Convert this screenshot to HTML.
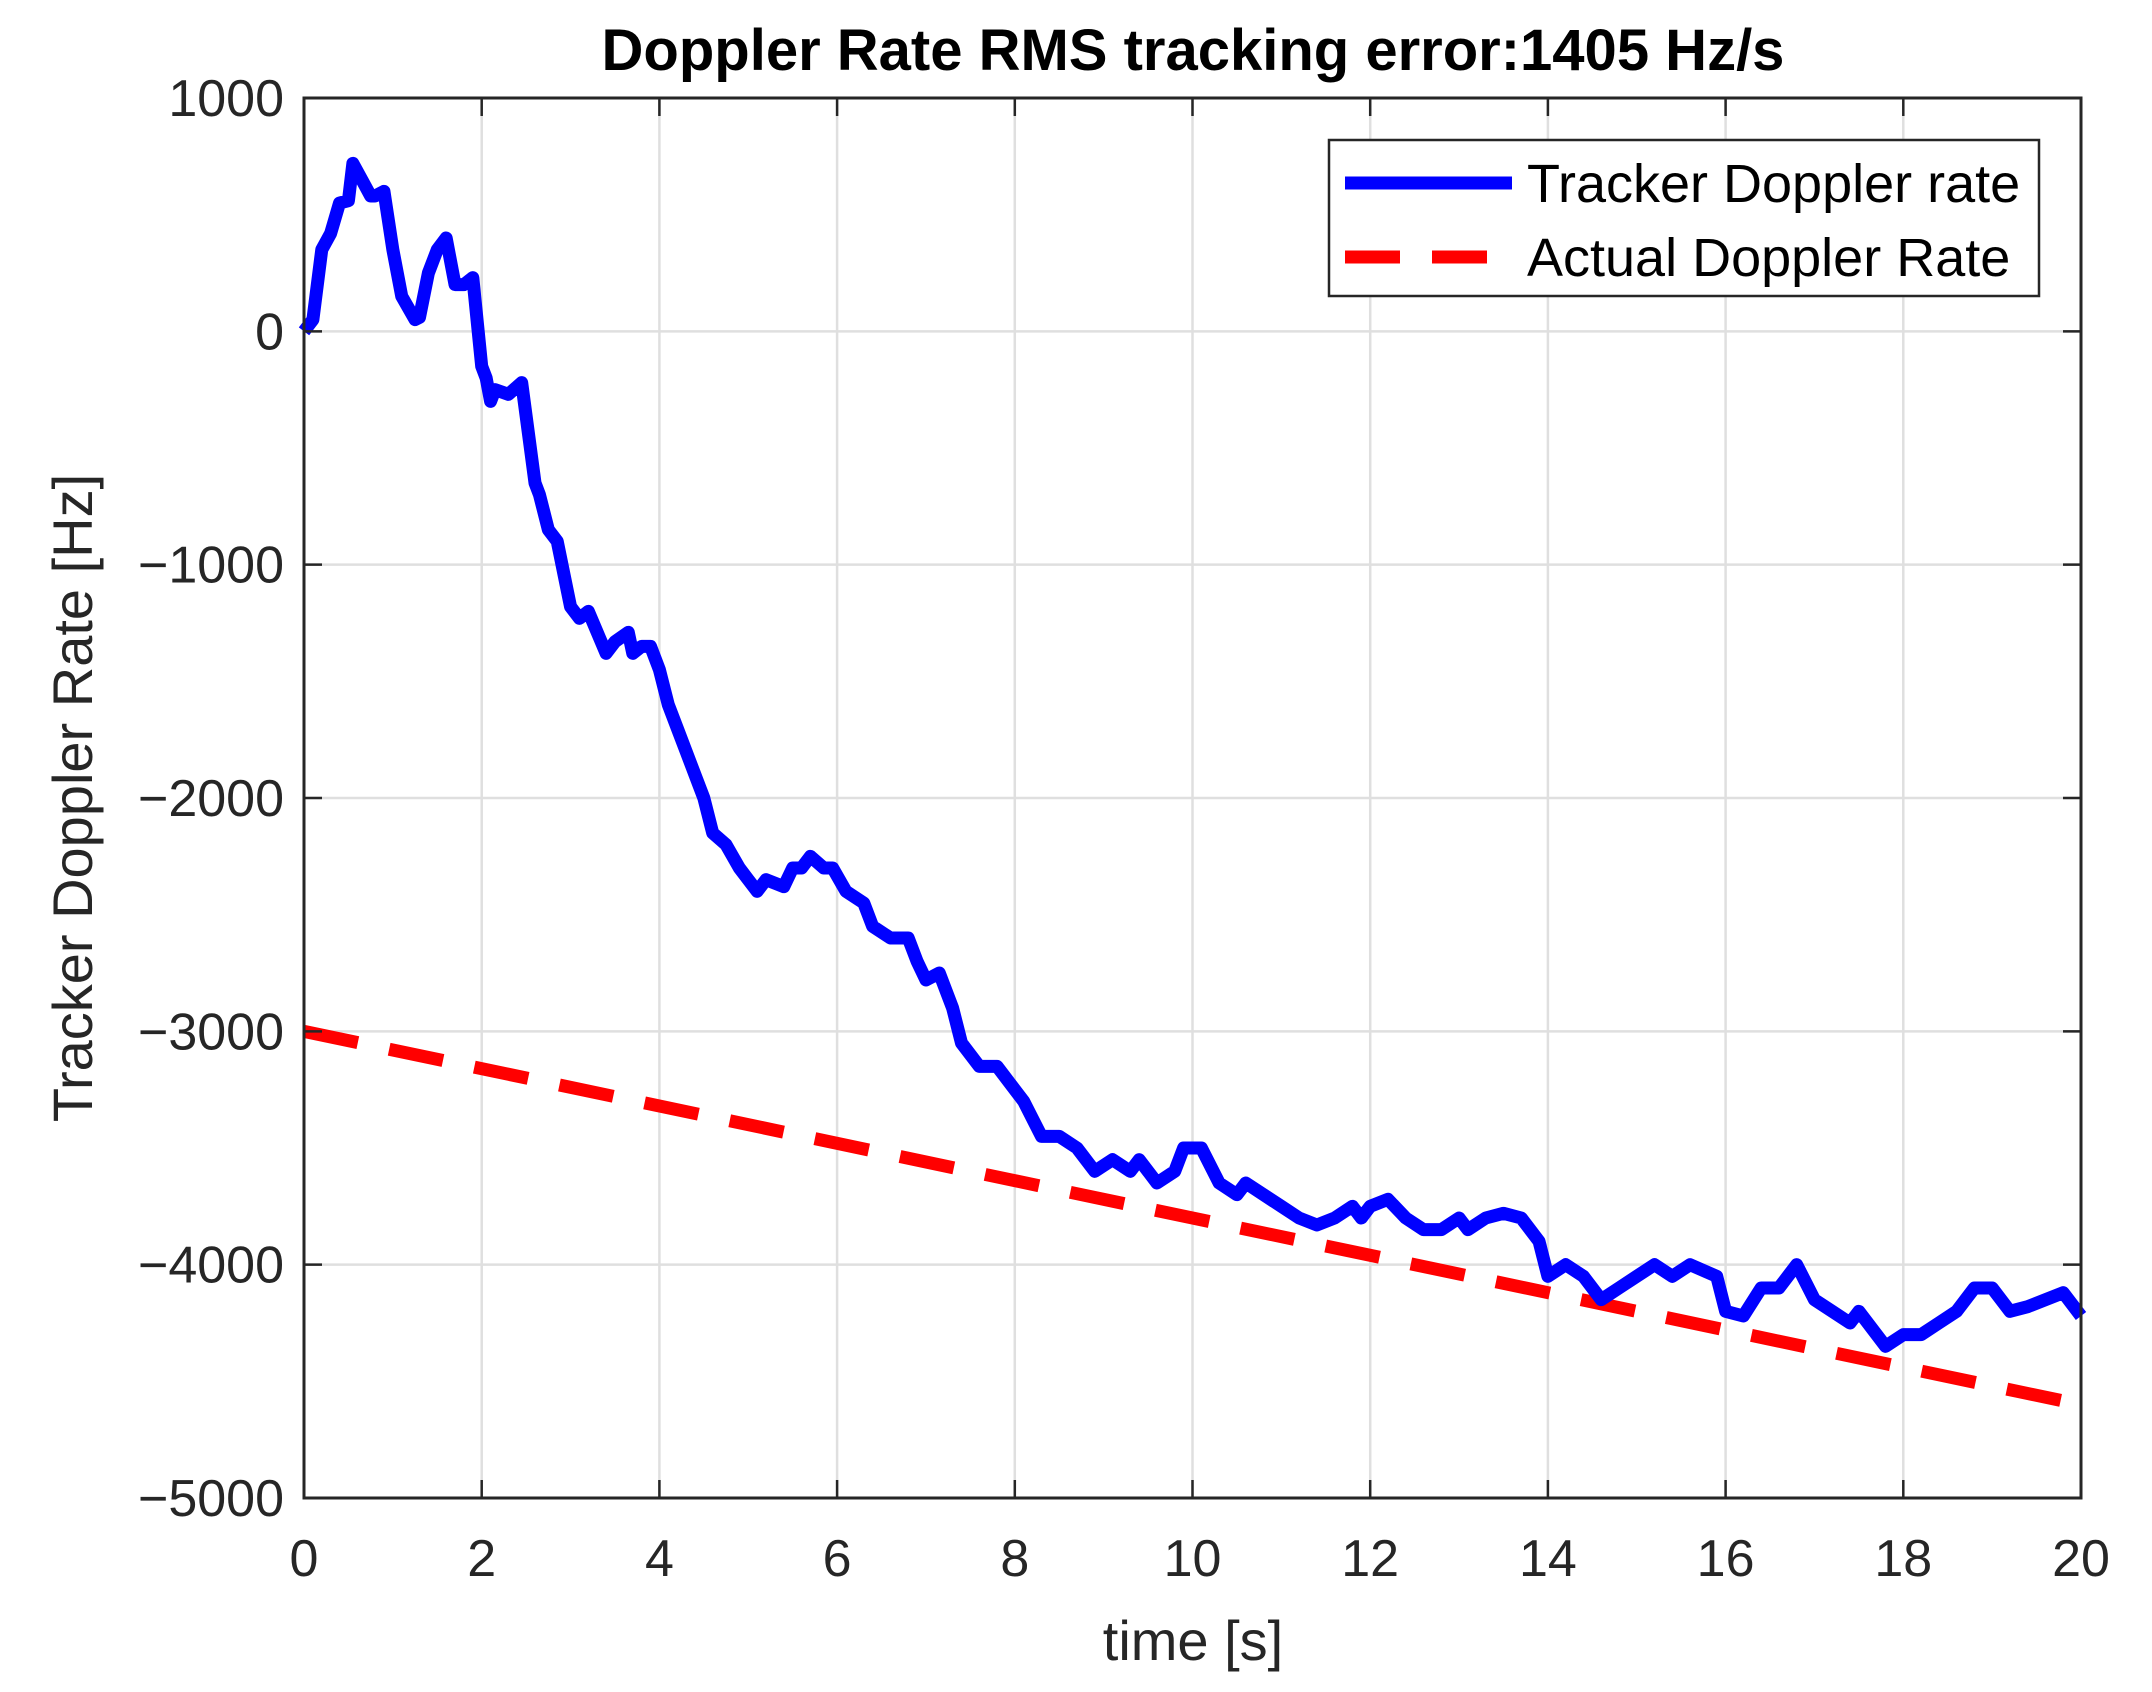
<!DOCTYPE html>
<html><head><meta charset="utf-8"><style>
html,body{margin:0;padding:0;background:#fff}
svg{display:block;font-family:"Liberation Sans",sans-serif}
</style></head><body>
<svg id="chart" width="2152" height="1692" viewBox="0 0 2152 1692" xmlns="http://www.w3.org/2000/svg">
<rect width="2152" height="1692" fill="#fff"/>
<g id="grid"></g>
<g id="series"></g>
<g id="axes"></g>
<text x="1193" y="70" font-size="58" font-weight="bold" text-anchor="middle" fill="#000">Doppler Rate RMS tracking error:1405 Hz/s</text>
<text x="1193" y="1660" font-size="56" text-anchor="middle" fill="#262626">time [s]</text>
<text transform="translate(92,798) rotate(-90)" font-size="56" text-anchor="middle" fill="#262626">Tracker Doppler Rate [Hz]</text>
<g>
<rect x="1329" y="140" width="710" height="156" fill="#fff" stroke="#262626" stroke-width="2.5"/>
<line x1="1345" y1="183" x2="1512" y2="183" stroke="#0000ff" stroke-width="13"/>
<text x="1527" y="202" font-size="54" fill="#000">Tracker Doppler rate</text>
<line x1="1345" y1="257" x2="1512" y2="257" stroke="#ff0000" stroke-width="13" stroke-dasharray="55,32"/>
<text x="1527" y="276" font-size="54" fill="#000">Actual Doppler Rate</text>
</g>
</svg>
<script>
const xTicks = [0,2,4,6,8,10,12,14,16,18,20];
const yTicks = [1000,0,-1000,-2000,-3000,-4000,-5000];
const trackerT = [0,0.1,0.2,0.3,0.4,0.5,0.55,0.65,0.75,0.8,0.9,1.0,1.1,1.25,1.3,1.4,1.5,1.6,1.7,1.8,1.9,2.0,2.05,2.1,2.15,2.3,2.45,2.6,2.65,2.75,2.85,3.0,3.1,3.2,3.3,3.4,3.5,3.65,3.7,3.8,3.9,4.0,4.1,4.2,4.3,4.5,4.6,4.75,4.9,5.0,5.1,5.2,5.4,5.5,5.6,5.7,5.85,5.95,6.1,6.3,6.4,6.6,6.8,6.9,7.0,7.15,7.3,7.4,7.6,7.8,8.0,8.1,8.3,8.5,8.7,8.9,9.1,9.3,9.4,9.6,9.8,9.9,10.1,10.3,10.5,10.6,10.8,11.0,11.2,11.4,11.6,11.8,11.9,12.0,12.2,12.4,12.6,12.8,13.0,13.1,13.3,13.5,13.7,13.9,14.0,14.2,14.4,14.6,14.8,15.0,15.2,15.4,15.6,15.9,16.0,16.2,16.4,16.6,16.8,17.0,17.2,17.4,17.5,17.8,18.0,18.2,18.4,18.6,18.8,19.0,19.2,19.4,19.6,19.8,20];
const trackerV = [0,50,350,420,550,560,720,650,580,580,600,350,150,50,60,250,350,400,200,200,230,-150,-200,-300,-250,-270,-220,-650,-700,-850,-900,-1180,-1230,-1200,-1290,-1380,-1330,-1290,-1380,-1350,-1350,-1450,-1600,-1700,-1800,-2000,-2150,-2200,-2300,-2350,-2400,-2350,-2380,-2300,-2300,-2250,-2300,-2300,-2400,-2450,-2550,-2600,-2600,-2700,-2780,-2750,-2900,-3050,-3150,-3150,-3250,-3300,-3450,-3450,-3500,-3600,-3550,-3600,-3550,-3650,-3600,-3500,-3500,-3650,-3700,-3650,-3700,-3750,-3800,-3830,-3800,-3750,-3800,-3750,-3720,-3800,-3850,-3850,-3800,-3850,-3800,-3780,-3800,-3900,-4050,-4000,-4050,-4150,-4100,-4050,-4000,-4050,-4000,-4050,-4200,-4220,-4100,-4100,-4000,-4150,-4200,-4250,-4200,-4350,-4300,-4300,-4250,-4200,-4100,-4100,-4200,-4180,-4150,-4120,-4220];
const actualT = [0,20];
const actualV = [-3000,-4600];

const L=304,R=2081,T=98,B=1498;
const xs=t=>L+(t-0)/(20-0)*(R-L);
const ys=v=>T+(1000-v)/(1000-(-5000))*(B-T);
const NS='http://www.w3.org/2000/svg';
function mk(tag,attrs,parent){const e=document.createElementNS(NS,tag);for(const k in attrs)e.setAttribute(k,attrs[k]);parent.appendChild(e);return e;}
const grid=document.getElementById('grid'),axes=document.getElementById('axes'),series=document.getElementById('series');
xTicks.forEach(t=>{
  const g=mk('line',{x1:xs(t),x2:xs(t),y1:T,y2:B,stroke:'#dfdfdf','stroke-width':2.5},grid);
  
  
  mk('line',{x1:xs(t),x2:xs(t),y1:B,y2:B-18,stroke:'#262626','stroke-width':2.5},axes);
  mk('line',{x1:xs(t),x2:xs(t),y1:T,y2:T+18,stroke:'#262626','stroke-width':2.5},axes);
  const tx=mk('text',{x:xs(t),y:B+78,'font-size':52,'text-anchor':'middle',fill:'#262626'},axes);
  
  
  tx.textContent=t;
});
yTicks.forEach(v=>{
  const g=mk('line',{x1:L,x2:R,y1:ys(v),y2:ys(v),stroke:'#dfdfdf','stroke-width':2.5},grid);
  
  
  mk('line',{x1:L,x2:L+18,y1:ys(v),y2:ys(v),stroke:'#262626','stroke-width':2.5},axes);
  mk('line',{x1:R,x2:R-18,y1:ys(v),y2:ys(v),stroke:'#262626','stroke-width':2.5},axes);
  const tx=mk('text',{x:L-20,y:ys(v)+18,'font-size':52,'text-anchor':'end',fill:'#262626'},axes);
  
  
  tx.textContent=v<0?'\u2212'+(-v):String(v);
});
mk('rect',{x:L,y:T,width:R-L,height:B-T,fill:'none',stroke:'#262626','stroke-width':3},axes);
const a=mk('polyline',{points:actualT.map((t,i)=>xs(t)+','+ys(actualV[i])).join(' '),fill:'none',stroke:'#ff0000','stroke-width':13,'stroke-dasharray':'55,32'},series);


const p=mk('polyline',{points:trackerT.map((t,i)=>xs(t)+','+ys(trackerV[i])).join(' '),fill:'none',stroke:'#0000ff','stroke-width':13,'stroke-linejoin':'round'},series);


</script>
</body></html>
